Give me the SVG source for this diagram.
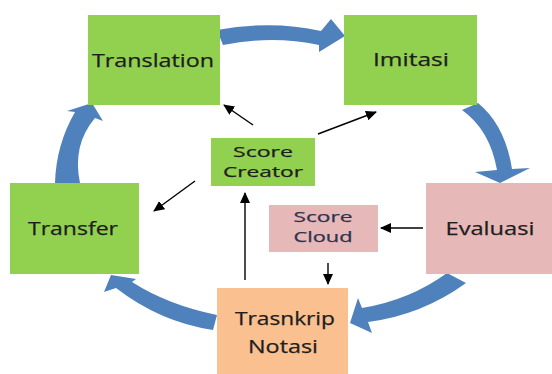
<svg xmlns="http://www.w3.org/2000/svg" width="552" height="374" viewBox="0 0 552 374">
<defs>
<style>
.green{fill:#92d050}
.pink{fill:#e6b9b8}
.orange{fill:#fac090}
.lbl{font-family:"Open Sans","Liberation Sans",sans-serif;font-size:18px;fill:#1e1e1e;text-anchor:middle;stroke:#1e1e1e;stroke-width:0.25}
.sm{font-size:15px}
.cloud{fill:#2e3350;stroke:#2e3350}
.big{fill:#4f81bd}
.thin{stroke:#000;stroke-width:1.4;fill:none;marker-end:url(#ah)}
</style>
<marker id="ah" markerUnits="userSpaceOnUse" markerWidth="12" markerHeight="10" refX="10" refY="5" orient="auto">
<path d="M0,0 L11,5 L0,10 Z" fill="#000"/>
</marker>
</defs>
<rect width="552" height="374" fill="#fff"/>

<g id="connectors">
<path class="big" d="M217,30 Q272,20 321,31 L331,19 L345,36 L319,52 L319,45 Q272,35 223,45 Z"/>
<path class="big" d="M462,110 Q490,130 497,170 L475,172 L500,183 L530,168 L512,169 Q505,125 478,103 Z"/>
<path class="big" d="M447,273 Q410,300 362,308 L358,298 L350,323 L372,333 L368,322 Q422,315 466,283 Z"/>
<path class="big" d="M217,315 Q168,305 132,282 L136,279 L111,275 L104,292 L116,288 Q160,322 213,330 Z"/>
<path class="big" d="M55,183 Q56,145 75,112 L67,111 L92,103 L103,121 L95,118 Q72,145 80,183 Z"/>
<line class="thin" x1="253" y1="125" x2="224" y2="105"/>
<line class="thin" x1="318" y1="134" x2="376" y2="112"/>
<line class="thin" x1="195" y1="181" x2="154" y2="211"/>
<line class="thin" x1="245" y1="280" x2="245" y2="193"/>
<line class="thin" x1="423" y1="228" x2="381" y2="228"/>
<line class="thin" x1="328" y1="263" x2="328" y2="284"/>
</g>

<g id="translation">
<rect class="green" x="88" y="15" width="132" height="90"/>
<text class="lbl" x="153" y="67" textLength="122" lengthAdjust="spacingAndGlyphs">Translation</text>
</g>
<g id="imitasi">
<rect class="green" x="344" y="15" width="133" height="90"/>
<text class="lbl" x="411" y="66" textLength="76" lengthAdjust="spacingAndGlyphs">Imitasi</text>
</g>
<g id="score-creator">
<rect class="green" x="211" y="138" width="104" height="48"/>
<text class="lbl sm" x="263" y="157" textLength="60" lengthAdjust="spacingAndGlyphs">Score</text>
<text class="lbl sm" x="263" y="177" textLength="80" lengthAdjust="spacingAndGlyphs">Creator</text>
</g>
<g id="transfer">
<rect class="green" x="10" y="183" width="129" height="91"/>
<text class="lbl" x="73" y="235" textLength="90" lengthAdjust="spacingAndGlyphs">Transfer</text>
</g>
<g id="evaluasi">
<rect class="pink" x="426" y="183" width="126" height="91"/>
<text class="lbl" x="490" y="235" textLength="89" lengthAdjust="spacingAndGlyphs">Evaluasi</text>
</g>
<g id="score-cloud">
<rect class="pink" x="269" y="205" width="109" height="47"/>
<text class="lbl sm cloud" x="323" y="222" textLength="59" lengthAdjust="spacingAndGlyphs">Score</text>
<text class="lbl sm cloud" x="323" y="242" textLength="59" lengthAdjust="spacingAndGlyphs">Cloud</text>
</g>
<g id="trasnkrip-notasi">
<rect class="orange" x="217" y="288" width="131" height="86"/>
<text class="lbl" x="285" y="325" textLength="100" lengthAdjust="spacingAndGlyphs">Trasnkrip</text>
<text class="lbl" x="283" y="353" textLength="70" lengthAdjust="spacingAndGlyphs">Notasi</text>
</g>
</svg>
